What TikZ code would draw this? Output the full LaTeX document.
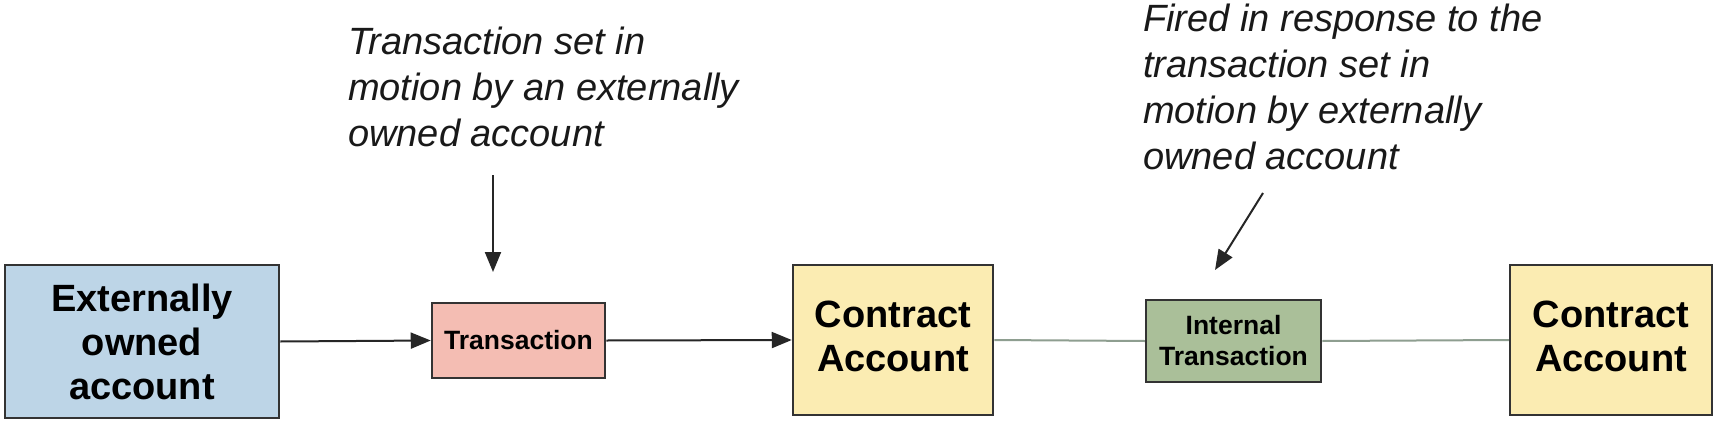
\documentclass[tikz,border=0pt]{standalone}
\usepackage{fontspec}
\setmainfont{Liberation Sans}
\usetikzlibrary{arrows.meta}
\definecolor{eoablue}{HTML}{BDD5E7}
\definecolor{txpink}{HTML}{F4BDB3}
\definecolor{cayellow}{HTML}{FBECB2}
\definecolor{itgreen}{HTML}{AABF99}
\definecolor{boxborder}{HTML}{333333}
\definecolor{arrowdark}{HTML}{262626}
\definecolor{linkgray}{HTML}{8E9E90}
\tikzset{
  x=1pt, y=-1pt,
  box/.style={draw=boxborder, line width=2.5pt, inner sep=0pt, align=center, text=black},
  bigbox/.style={box, font=\fontsize{38}{44}\selectfont\bfseries},
  smallbox/.style={box, font=\fontsize{26.5}{31}\selectfont\bfseries},
  note/.style={inner sep=0pt, align=left, anchor=north west, text=black!90,
    font=\fontsize{38}{46}\selectfont\itshape},
  arrowline/.style={draw=arrowdark, line width=2pt, -{Triangle[length=20pt,width=16pt]}},
  linkline/.style={draw=linkgray, line width=2pt},
}
\begin{document}
\begin{tikzpicture}
\useasboundingbox[fill=white] (0,0) rectangle (1715,423);
\node[bigbox, fill=eoablue, minimum width=274pt, minimum height=153pt] (eoa) at (142,341.5) {Externally\\owned\\account};
\node[smallbox, fill=txpink, minimum width=173pt, minimum height=75pt] (tx) at (518.5,340.5) {Transaction};
\node[bigbox, fill=cayellow, minimum width=200pt, minimum height=150pt, text depth=8pt] (ca1) at (893,340) {Contract\\Account};
\node[smallbox, fill=itgreen, minimum width=175pt, minimum height=82pt] (itx) at (1233.5,341) {Internal\\Transaction};
\node[bigbox, fill=cayellow, minimum width=202pt, minimum height=150pt, text depth=8pt] (ca2) at (1611,340) {Contract\\Account};

\node[note] (n1) at (348,27) {Transaction set in\\motion by an externally\\owned account};
\node[note] (n2) at (1143,4) {Fired in response to the\\transaction set in\\motion by externally\\owned account};

\coordinate (a1s) at (493,175);
\coordinate (a1e) at (493,272);
\coordinate (a2s) at (1263,193);
\coordinate (a2e) at (1215,270);

\draw[arrowline] (eoa.east) -- (tx.west);
\draw[arrowline] (tx.east) -- (ca1.west);
\draw[linkline] (ca1.east) -- (itx.west);
\draw[linkline] (itx.east) -- (ca2.west);
\draw[arrowline] (a1s) -- (a1e);
\draw[arrowline] (a2s) -- (a2e);
\end{tikzpicture}
\end{document}
